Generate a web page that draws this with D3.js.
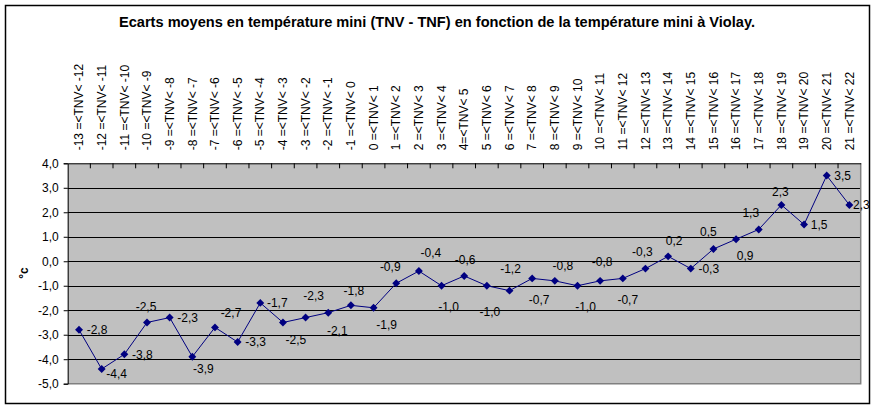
<!DOCTYPE html>
<html><head><meta charset="utf-8">
<script src="https://cdn.jsdelivr.net/npm/d3@7"></script>
<style>body{margin:0;background:#fff;} svg{display:block;font-family:"Liberation Sans",Arial,sans-serif;}</style>
</head><body><svg id="c" width="875" height="409"></svg>
<script>
const categories = ["-13 =<TNV< -12","-12 =<TNV< -11","-11 =<TNV< -10","-10 =<TNV< -9","-9 =<TNV< -8","-8 =<TNV< -7","-7 =<TNV< -6","-6 =<TNV< -5","-5 =<TNV< -4","-4 =<TNV< -3","-3 =<TNV< -2","-2 =<TNV< -1","-1 =<TNV< 0","0 =<TNV< 1","1 =<TNV< 2","2 =<TNV< 3","3 =<TNV< 4","4=<TNV< 5","5 =<TNV< 6","6 =<TNV< 7","7 =<TNV< 8","8 =<TNV< 9","9 =<TNV< 10","10 =<TNV< 11","11 =<TNV< 12","12 =<TNV< 13","13 =<TNV< 14","14 =<TNV< 15","15 =<TNV< 16","16 =<TNV< 17","17 =<TNV< 18","18 =<TNV< 19","19 =<TNV< 20","20 =<TNV< 21","21 =<TNV< 22"];
const values = [-2.8,-4.4,-3.8,-2.5,-2.3,-3.9,-2.7,-3.3,-1.7,-2.5,-2.3,-2.1,-1.8,-1.9,-0.9,-0.4,-1.0,-0.6,-1.0,-1.2,-0.7,-0.8,-1.0,-0.8,-0.7,-0.3,0.2,-0.3,0.5,0.9,1.3,2.3,1.5,3.5,2.3];
const yTicks = [4,3,2,1,0,-1,-2,-3,-4,-5];
// label offsets (label centre relative to point)
const labelOffsets = [[18,0],[15,5],[18,0],[-1,-16],[18,0],[11,12],[16,-15],[18,0],[17,0],[13,17],[8,-22],[9,18],[3,-15],[13,17],[-6,-16],[12,-18],[7,21],[1,-16],[3,26],[1,-22],[7,21],[8,-15],[8,21],[2,-19],[5,21],[-3,-17],[6,-16],[18,0],[-5,-17],[9,17],[-8,-17],[-1,-13],[15,0],[16,0],[12,0]];

const svg = d3.select("#c");
const L = 67.7, R = 860.7, T = 163.3, B = 383.7;
const x = d3.scaleBand().domain(categories).range([L, R]);
const y = d3.scaleLinear().domain([-5, 4]).range([B, T]);
const fmt = v => d3.format(".1f")(v).replace(".", ",").replace("−", "-");
const FF = "'Liberation Sans',Arial,sans-serif";

// outer border
svg.append("rect").attr("x",5.5).attr("y",5.5).attr("width",864).attr("height",398)
  .attr("fill","#fff").attr("stroke","#000").attr("stroke-width",1.5);

// title
svg.append("text").attr("x",437).attr("y",27).attr("text-anchor","middle")
  .attr("font-weight","bold").attr("font-size","14.6px")
  .text("Ecarts moyens en température mini (TNV - TNF) en fonction de la température mini à Violay.");

// plot area
svg.append("rect").attr("x",L).attr("y",T).attr("width",R-L).attr("height",B-T).attr("fill","#c0c0c0");
// gridlines
svg.append("g").selectAll("line").data(yTicks.filter(d=>d>-5 && d<4)).join("line")
  .attr("x1",L).attr("x2",R).attr("y1",d=>Math.round(y(d))+0.5).attr("y2",d=>Math.round(y(d))+0.5)
  .attr("stroke","#000").attr("stroke-width",1);
// gray plot border right/bottom
svg.append("path").attr("d",`M${R},${T}V${B}H${L}`).attr("fill","none").attr("stroke","#808080").attr("stroke-width",1.5);

// y axis
const yAxis = d3.axisLeft(y).tickValues(yTicks).tickSize(4).tickPadding(5).tickFormat(fmt);
const gy = svg.append("g").attr("transform",`translate(${L},0)`).call(yAxis);
gy.select(".domain").attr("stroke","#000");
gy.selectAll("text").attr("font-size","12px").attr("font-family",FF).attr("fill","#000");

// top category axis
const xAxis = d3.axisTop(x).tickSize(0).tickFormat(d=>d);
const gx = svg.append("g").attr("transform",`translate(0,${T})`).call(xAxis);
gx.select(".domain").attr("stroke","#000");
gx.selectAll(".tick text").attr("transform","rotate(-90)").attr("x",13).attr("y",0).attr("dy","0.35em")
  .attr("text-anchor","start").attr("font-size","12px").attr("font-family",FF).attr("fill","#000");
// inner tick marks at boundaries
svg.append("g").selectAll("line").data(d3.range(1, categories.length)).join("line")
  .attr("x1",i=>L+i*x.bandwidth()).attr("x2",i=>L+i*x.bandwidth())
  .attr("y1",T).attr("y2",T+5).attr("stroke","#000");

// y label
svg.append("text").attr("transform","translate(28,273) rotate(-90)").attr("text-anchor","middle")
  .attr("font-weight","bold").attr("font-size","12px").text("°c");

// line
const cx = (d,i) => x(categories[i]) + x.bandwidth()/2;
const line = d3.line().x((d,i)=>cx(d,i)).y(d=>y(d));
svg.append("path").datum(values).attr("d",line).attr("fill","none").attr("stroke","#000080").attr("stroke-width",1);
svg.append("g").selectAll("path").data(values).join("path")
  .attr("d",d3.symbol(d3.symbolDiamond2, 40)())
  .attr("transform",(d,i)=>`translate(${cx(d,i)},${y(d)})`).attr("fill","#000080");

// data labels
svg.append("g").selectAll("text").data(values).join("text")
  .attr("x",(d,i)=>cx(d,i)+labelOffsets[i][0]).attr("y",(d,i)=>y(d)+labelOffsets[i][1])
  .attr("dy","0.35em").attr("text-anchor","middle").attr("font-size","12px").attr("fill","#000")
  .text(d=>fmt(d));
</script></body></html>
